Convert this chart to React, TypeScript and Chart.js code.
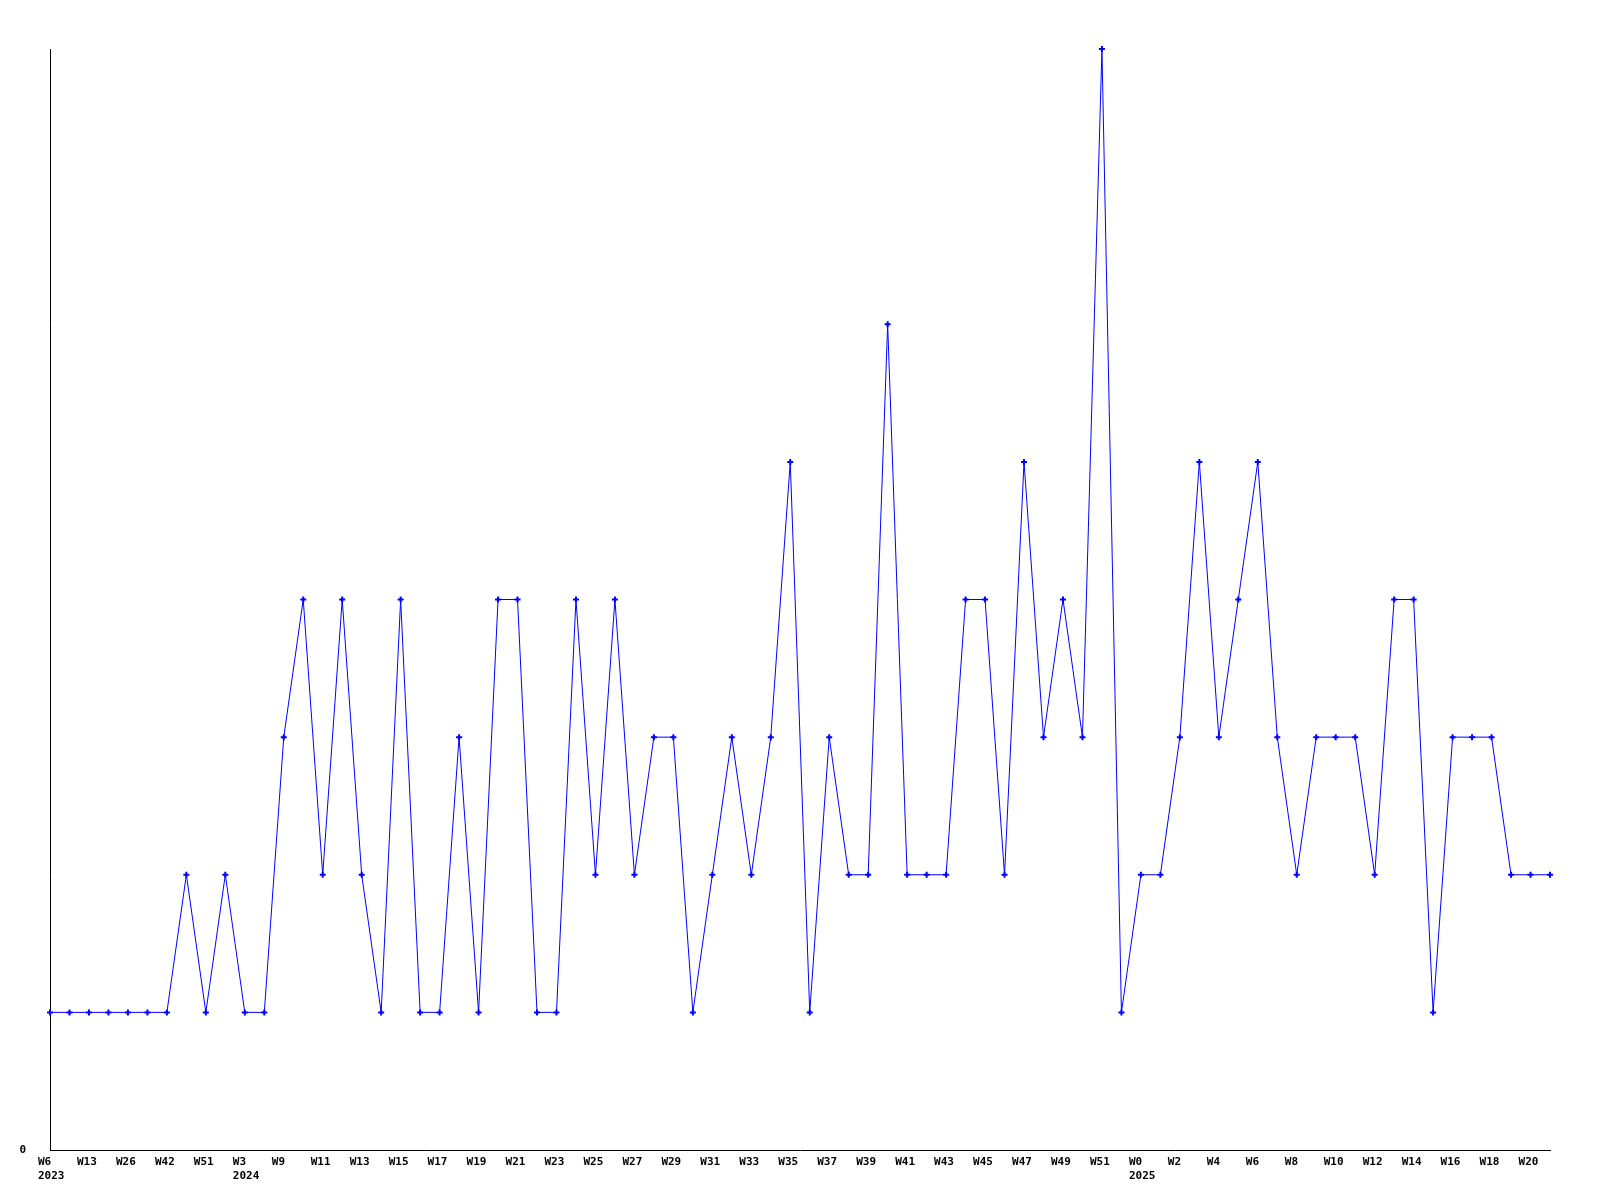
import React, { useEffect, useRef } from "react";
import { Chart, registerables } from "chart.js";

Chart.register(...registerables);

const weekLabels: string[] = [
  "W6", "W9", "W13", "W20", "W26", "W35", "W42", "W47", "W51", "W52",
  "W3", "W6", "W9", "W10", "W11", "W12", "W13", "W14", "W15", "W16",
  "W17", "W18", "W19", "W20", "W21", "W22", "W23", "W24", "W25", "W26",
  "W27", "W28", "W29", "W30", "W31", "W32", "W33", "W34", "W35", "W36",
  "W37", "W38", "W39", "W40", "W41", "W42", "W43", "W44", "W45", "W46",
  "W47", "W48", "W49", "W50", "W51", "W52", "W0", "W1", "W2", "W3",
  "W4", "W5", "W6", "W7", "W8", "W9", "W10", "W11", "W12", "W13",
  "W14", "W15", "W16", "W17", "W18", "W19", "W20", "W21",
];

const yearMarks: { [index: number]: string } = { 0: "2023", 10: "2024", 56: "2025" };

const counts: number[] = [
  1, 1, 1, 1, 1, 1, 1, 2, 1, 2,
  1, 1, 3, 4, 2, 4, 2, 1, 4, 1,
  1, 3, 1, 4, 4, 1, 1, 4, 2, 4,
  2, 3, 3, 1, 2, 3, 2, 3, 5, 1,
  3, 2, 2, 6, 2, 2, 2, 4, 4, 2,
  5, 3, 4, 3, 8, 1, 2, 2, 3, 5,
  3, 4, 5, 3, 2, 3, 3, 3, 2, 4,
  4, 1, 3, 3, 3, 2, 2, 2,
];

const yTickLabels: string[] = ["0"];

export default function App() {
  const canvasRef = useRef<HTMLCanvasElement | null>(null);

  useEffect(() => {
    document.body.style.margin = "0";
    const canvas = canvasRef.current;
    if (!canvas) return;
    const font = { family: "'DejaVu Sans Mono', monospace", size: 11, weight: "bold" as const };
    const labels = weekLabels.map((w, i) => (yearMarks[i] ? [w, yearMarks[i]] : w));
    const chart = new Chart(canvas, {
      type: "line",
      data: {
        labels,
        datasets: [
          {
            data: counts,
            borderColor: "#0000ff",
            backgroundColor: "#0000ff",
            borderWidth: 1,
            pointStyle: "cross",
            pointRadius: 3,
            pointBorderWidth: 2,
            pointBorderColor: "#0000ff",
            pointBackgroundColor: "#0000ff",
            tension: 0,
            clip: false as any,
          },
        ],
      },
      options: {
        responsive: false,
        animation: false,
        layout: { padding: { top: 49, right: 50, left: 0, bottom: 0 } },
        plugins: { legend: { display: false }, tooltip: { enabled: false } },
        scales: {
          x: {
            type: "category",
            offset: false,
            grid: { display: false, drawTicks: false },
            border: { display: true, color: "#000000", width: 1 },
            ticks: {
              autoSkip: false,
              maxRotation: 0,
              minRotation: 0,
              padding: 6,
              align: "start",
              labelOffset: -12,
              color: "#000000",
              font,
              callback: function (this: any, _v: any, index: number) {
                return index % 2 === 0 ? labels[index] : "";
              },
            },
            afterFit: (s: any) => {
              s.height = 50;
            },
          },
          y: {
            min: 0,
            max: 8,
            grid: { display: false, drawTicks: false },
            border: { display: true, color: "#000000", width: 1 },
            ticks: {
              stepSize: 8,
              padding: 24,
              color: "#000000",
              font,
              callback: (v: any) => (v === 0 ? yTickLabels[0] : ""),
            },
            afterFit: (s: any) => {
              s.width = 50;
            },
          },
        },
      },
    });
    return () => chart.destroy();
  }, []);

  return (
    <div style={{ position: "absolute", left: 0, top: 0, width: 1600, height: 1200, background: "#fff" }}>
      <canvas ref={canvasRef} width={1600} height={1200} style={{ width: 1600, height: 1200 }} />
    </div>
  );
}
